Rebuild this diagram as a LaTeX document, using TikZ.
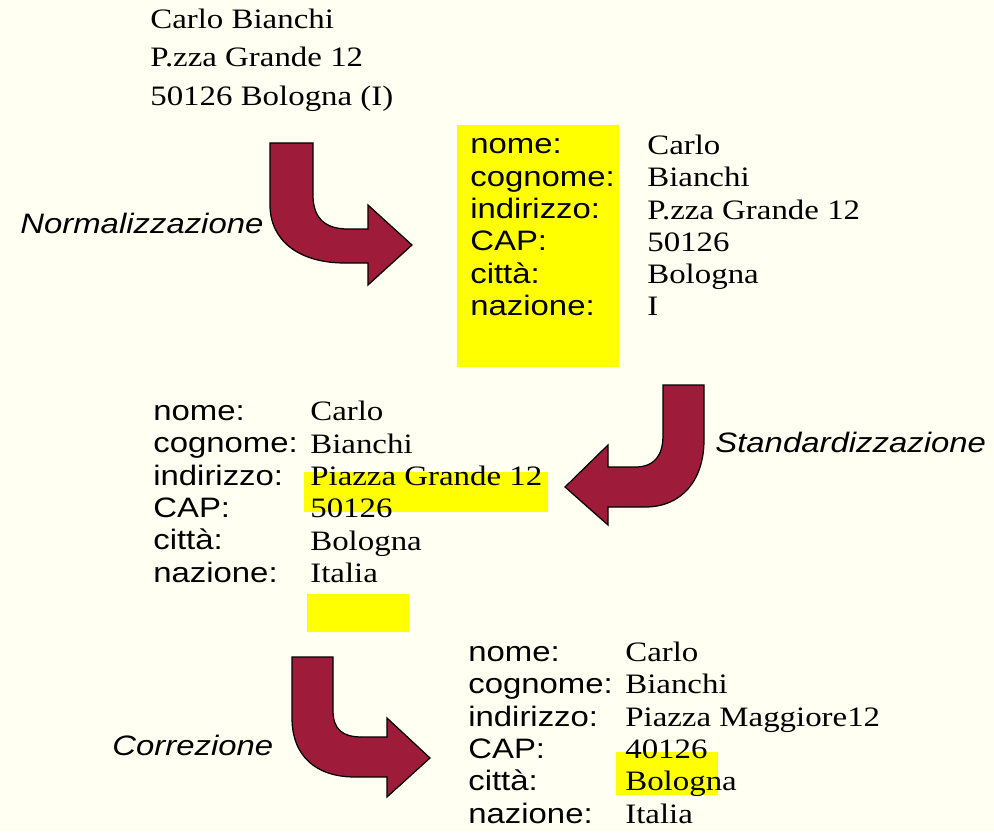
\documentclass[tikz,border=0pt]{standalone}
\usepackage{fontspec}
\setmainfont{Liberation Serif}[FakeStretch=1.17]
\newfontfamily\arialfont{Liberation Sans}[FakeStretch=1.17]

\definecolor{paper}{RGB}{255,255,242}
\definecolor{hilite}{RGB}{255,255,0}
\definecolor{arrowred}{RGB}{158,27,58}

\begin{document}
\begin{tikzpicture}[x=0.02cm, y=-0.02cm,
    fld/.style={anchor=north west, inner sep=0pt, align=left,
      font=\arialfont\fontsize{16}{18.4}\selectfont, execute at begin node=\strut},
    val/.style={fld, font=\rmfamily\fontsize{16}{18.4}\selectfont},
    addr/.style={fld, font=\rmfamily\fontsize{16}{21.9}\selectfont},
    verb/.style={anchor=base west, inner sep=0pt, font=\arialfont\itshape\fontsize{16}{18.4}\selectfont},
    hl/.style={fill=hilite},
    bigarrow/.style={fill=arrowred, draw=black, line width=0.7pt}]

        \fill[paper] (0,0) rectangle (994,831);

        \fill[hl] (457,125) rectangle (619,367);
        \fill[hl] (304,472) rectangle (548,512);
        \fill[hl] (307,594) rectangle (409,632);
        \fill[hl] (616,752) rectangle (718,795);

        \node[addr] (raw) at (150,8.5) {Carlo Bianchi\\P.zza Grande 12\\50126 Bologna (I)};

        \node[fld] (rfld) at (470,138.5) {nome:\\cognome:\\indirizzo:\\CAP:\\città:\\nazione:};
        \node[val] (rval) at (647,134.5) {Carlo\\Bianchi\\P.zza Grande 12\\50126\\Bologna\\I};

        \node[fld] (mfld) at (153,405) {nome:\\cognome:\\indirizzo:\\CAP:\\città:\\nazione:};
        \node[val] (mval) at (310,401) {Carlo\\Bianchi\\Piazza Grande 12\\50126\\Bologna\\Italia};

        \node[fld] (bfld) at (468,646) {nome:\\cognome:\\indirizzo:\\CAP:\\città:\\nazione:};
        \node[val] (bval) at (625,641.5) {Carlo\\Bianchi\\Piazza Maggiore12\\40126\\Bologna\\Italia};

        \node[verb] (norm) at (20,233) {Normalizzazione};
        \node[verb] (std) at (715,452) {Standardizzazione};
        \node[verb] (corr) at (112,755) {Correzione};

        \draw[bigarrow] (270,143) -- (313,143) -- (313,195)
          .. controls (313,218) and (325,229) .. (348,229) -- (368,229) -- (368,205)
          -- (412,245) -- (368,285) -- (368,263) -- (345,263)
          .. controls (298,263) and (270,240) .. (270,205) -- cycle;

        \draw[bigarrow] (663,385) -- (704,385) -- (704,440)
          .. controls (704,480) and (682,507) .. (645,507) -- (608,507) -- (608,525)
          -- (565,487) -- (608,445) -- (608,467) -- (635,467)
          .. controls (655,467) and (663,455) .. (663,435) -- cycle;

        \draw[bigarrow] (292,657) -- (333,657) -- (333,710)
          .. controls (333,730) and (343,737) .. (362,737) -- (387,737) -- (387,718)
          -- (430,758) -- (387,797) -- (387,777) -- (355,777)
          .. controls (316,777) and (292,756) .. (292,718) -- cycle;
      \end{tikzpicture}
\end{document}
